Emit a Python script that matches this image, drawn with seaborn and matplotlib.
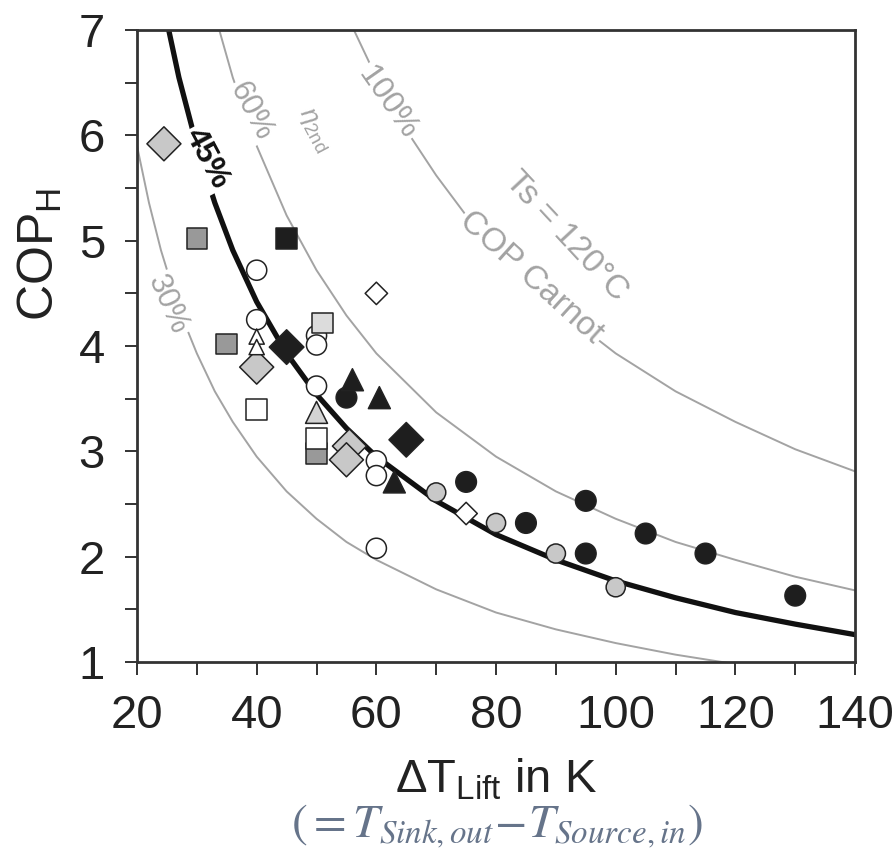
import numpy as np
import pandas as pd
import matplotlib
matplotlib.use("Agg")
import matplotlib.pyplot as plt
from matplotlib import font_manager
from matplotlib.ticker import MultipleLocator
import seaborn as sns

# Efficiency curves (COP_H vs lift), Ts = 120 degC
dt_100 = [55, 60, 65, 70, 75, 80, 90, 100, 110, 120, 130, 140]
cop_100 = [7.15, 6.55, 6.05, 5.62, 5.24, 4.91, 4.37, 3.93, 3.57, 3.28, 3.02, 2.81]

dt_60 = [33, 36, 40, 45, 50, 55, 60, 70, 80, 90, 100, 110, 120, 130, 140]
cop_60 = [7.15, 6.55, 5.90, 5.24, 4.72, 4.29, 3.93, 3.37, 2.95, 2.62, 2.36, 2.14, 1.97, 1.81, 1.68]

dt_45 = [25, 27, 30, 33, 36, 40, 45, 50, 55, 60, 70, 80, 90, 100, 110, 120, 130, 140]
cop_45 = [7.08, 6.55, 5.90, 5.36, 4.91, 4.42, 3.93, 3.54, 3.22, 2.95, 2.53, 2.21, 1.97, 1.77,
          1.61, 1.47, 1.36, 1.26]

dt_30 = [20, 22, 24, 26, 28, 30, 33, 36, 40, 45, 50, 55, 60, 70, 80, 90, 100, 110, 120]
cop_30 = [5.90, 5.36, 4.91, 4.54, 4.21, 3.93, 3.57, 3.28, 2.95, 2.62, 2.36, 2.14, 1.97, 1.69,
          1.47, 1.31, 1.18, 1.07, 0.98]

# Measured heat pumps, grouped by marker
circle_black_x = [55, 75, 85, 95, 95, 105, 115, 130]
circle_black_y = [3.51, 2.71, 2.32, 2.53, 2.03, 2.22, 2.03, 1.63]
circle_light_x = [70, 80, 90, 100]
circle_light_y = [2.61, 2.32, 2.03, 1.71]
circle_open_x = [40, 40, 50, 50, 50, 60, 60, 60]
circle_open_y = [4.72, 4.25, 4.10, 4.01, 3.62, 2.91, 2.77, 2.08]
square_black_x = [45]
square_black_y = [5.02]
square_gray_x = [30, 35, 50]
square_gray_y = [5.02, 4.02, 2.98]
square_open_x = [40, 50]
square_open_y = [3.40, 3.12]
square_light_x = [51]
square_light_y = [4.22]
diamond_light_x = [24.5, 40, 55.5, 55]
diamond_light_y = [5.92, 3.80, 3.05, 2.92]
diamond_black_x = [45, 65]
diamond_black_y = [3.99, 3.11]
diamond_open_x = [60, 75]
diamond_open_y = [4.50, 2.41]
triangle_black_x = [56, 60.5, 63]
triangle_black_y = [3.68, 3.51, 2.71]
triangle_open_x = [40, 40]
triangle_open_y = [4.09, 3.99]
triangle_light_x = [50]
triangle_light_y = [3.37]

groups = {
    "circle_black": (circle_black_x, circle_black_y),
    "circle_light": (circle_light_x, circle_light_y),
    "circle_open": (circle_open_x, circle_open_y),
    "square_black": (square_black_x, square_black_y),
    "square_gray": (square_gray_x, square_gray_y),
    "square_open": (square_open_x, square_open_y),
    "square_light": (square_light_x, square_light_y),
    "diamond_light": (diamond_light_x, diamond_light_y),
    "diamond_black": (diamond_black_x, diamond_black_y),
    "diamond_open": (diamond_open_x, diamond_open_y),
    "triangle_black": (triangle_black_x, triangle_black_y),
    "triangle_open": (triangle_open_x, triangle_open_y),
    "triangle_light": (triangle_light_x, triangle_light_y),
}
df = pd.concat([pd.DataFrame({"dT": x, "cop": y, "grp": g}) for g, (x, y) in groups.items()],
               ignore_index=True)

palette = {"circle_black": "#1e1e1e", "circle_light": "#c8c8c8", "circle_open": "white",
           "square_black": "#1e1e1e", "square_gray": "#999999", "square_open": "white",
           "square_light": "#dcdcdc", "diamond_light": "#c8c8c8", "diamond_black": "#1e1e1e",
           "diamond_open": "white", "triangle_black": "#1e1e1e", "triangle_open": "white",
           "triangle_light": "#d4d4d4"}
markers = {g: {"c": "o", "s": "s", "d": "D", "t": "^"}[g[0]] for g in groups}
sizes = {"circle_black": 220, "circle_light": 190, "circle_open": 210, "square_black": 220,
         "square_gray": 220, "square_open": 220, "square_light": 220, "diamond_light": 300,
         "diamond_black": 310, "diamond_open": 130, "triangle_black": 250, "triangle_open": 120,
         "triangle_light": 250}

sns.set_theme(style="ticks")
names = {f.name for f in font_manager.fontManager.ttflist}
narrow = "Liberation Sans Narrow" if "Liberation Sans Narrow" in names else "Liberation Sans"
plt.rcParams["font.family"] = [narrow, "DejaVu Sans"]
plt.rcParams["mathtext.fontset"] = "custom"
plt.rcParams["mathtext.rm"] = narrow
plt.rcParams["mathtext.it"] = narrow + ":italic"

fig = plt.figure(figsize=(8.92, 8.56), dpi=100)
ax = fig.add_axes([0.1536, 0.2266, 0.805, 0.7383])

grey = "#a3a3a3"
for x, y in [(dt_100, cop_100), (dt_60, cop_60), (dt_30, cop_30)]:
    sns.lineplot(x=x, y=y, ax=ax, color=grey, lw=1.4, sort=False, estimator=None)
sns.lineplot(x=dt_45, y=cop_45, ax=ax, color="#111111", lw=3.8, sort=False, estimator=None)

sns.scatterplot(data=df, x="dT", y="cop", hue="grp", style="grp", size="grp",
                palette=palette, markers=markers, sizes=sizes, edgecolor="#222222",
                linewidth=1.1, legend=False, ax=ax, zorder=4)

box = dict(facecolor="white", edgecolor="none", pad=1.5)
ax.text(31.7, 5.78, "45%", rotation=-62, rotation_mode="anchor", ha="center", va="center",
        fontsize=23, fontweight="bold", color="#111111", bbox=box)
ax.text(39.1, 6.23, "60%", rotation=-62, rotation_mode="anchor", ha="center", va="center",
        fontsize=22, color=grey, bbox=box)
ax.text(49.7, 6.05, r"$\eta_{\rm 2nd}$", rotation=-62, rotation_mode="anchor", ha="center",
        va="center", fontsize=19, color=grey)
ax.text(61.8, 6.31, "100%", rotation=-55, rotation_mode="anchor", ha="center", va="center",
        fontsize=23, color=grey, bbox=box)
ax.text(91.7, 5.04, "Ts = 120°C", rotation=-47, rotation_mode="anchor", ha="center",
        va="center", fontsize=24, color=grey)
ax.text(85.9, 4.65, "COP Carnot", rotation=-42, rotation_mode="anchor", ha="center",
        va="center", fontsize=24, color=grey, bbox=box)
ax.text(25.2, 4.39, "30%", rotation=-66, rotation_mode="anchor", ha="center", va="center",
        fontsize=22, color=grey, bbox=box)

ax.set_xlim(20, 140)
ax.set_ylim(1, 7)
ax.xaxis.set_major_locator(MultipleLocator(20))
ax.xaxis.set_minor_locator(MultipleLocator(10))
ax.yaxis.set_major_locator(MultipleLocator(1))
ax.yaxis.set_minor_locator(MultipleLocator(0.5))
ax.tick_params(which="both", direction="out", length=9, width=1.4, color="#333333",
               labelsize=34, pad=14, labelcolor="#222222")
for s in ax.spines.values():
    s.set_visible(True)
    s.set_color("#333333")
    s.set_linewidth(2)

ax.set_ylabel(r"COP$_{\rm H}$", fontsize=36, color="#222222")
ax.yaxis.set_label_coords(-0.102, 0.645)
ax.set_xlabel(r"ΔT$_{\rm Lift}$ in K", fontsize=34, color="#222222")
ax.xaxis.set_label_coords(0.5, -0.15)
fig.text(0.557, 0.022, r"$(=T_{Sink,out}\!-\!T_{Source,in})$", ha="center", va="baseline",
         fontsize=34, color="#66748a", math_fontfamily="stix")

fig.savefig("out.png", dpi=100)
